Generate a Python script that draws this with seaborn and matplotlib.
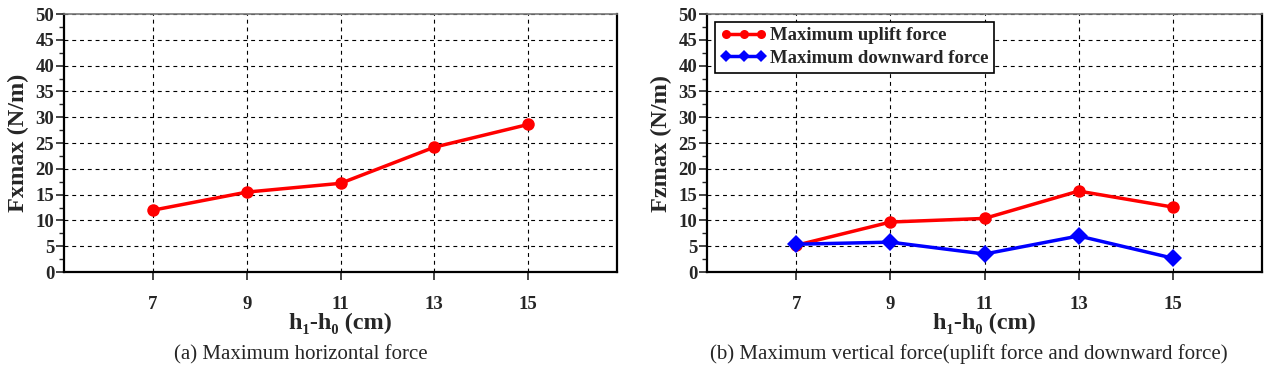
import numpy as np
import pandas as pd
import matplotlib
matplotlib.use("Agg")
import matplotlib.pyplot as plt
import seaborn as sns
from matplotlib.ticker import MultipleLocator

# Data
h_diff = [7, 9, 11, 13, 15]
fx_max = [12.0, 15.5, 17.2, 24.2, 28.6]
fz_uplift = [5.2, 9.7, 10.4, 15.7, 12.6]
fz_downward = [5.4, 5.8, 3.5, 7.0, 2.7]

sns.set_style("ticks")
plt.rcParams["font.family"] = ["Liberation Serif", "DejaVu Serif"]

fig = plt.figure(figsize=(12.66, 3.8), dpi=100)
ax1 = fig.add_axes([0.0506, 0.284, 0.4368, 0.679])
ax2 = fig.add_axes([0.5585, 0.284, 0.4384, 0.679])

df1 = pd.DataFrame({"h": h_diff, "F": fx_max})
sns.lineplot(data=df1, x="h", y="F", ax=ax1, color="#ff0000", linewidth=2.5,
             marker="o", markersize=9, markeredgewidth=0)

df2 = pd.DataFrame({
    "h": h_diff * 2,
    "F": fz_uplift + fz_downward,
    "kind": ["Maximum uplift force"] * 5 + ["Maximum downward force"] * 5,
})
sns.lineplot(data=df2, x="h", y="F", hue="kind", style="kind", ax=ax2,
             palette=["#ff0000", "#0000ff"], markers=["o", "D"], dashes=False,
             linewidth=2.5, markersize=9, markeredgewidth=0)

for ax, ylab in [(ax1, "Fxmax (N/m)"), (ax2, "Fzmax (N/m)")]:
    ax.set_xlim(5.1, 16.9)
    ax.set_ylim(0, 50)
    ax.set_xticks(h_diff)
    ax.yaxis.set_major_locator(MultipleLocator(5))
    ax.yaxis.set_minor_locator(MultipleLocator(2.5))
    ax.grid(True, which="major", color="black", linestyle=(0, (3.5, 3.5)), linewidth=0.8)
    ax.tick_params(axis="both", which="major", direction="out", length=6, width=1.2,
                   labelsize=13.5)
    ax.tick_params(axis="x", which="major", pad=11)
    ax.tick_params(axis="y", which="major", pad=1)
    ax.tick_params(axis="y", which="minor", direction="out", length=3.5, width=1)
    for lbl in ax.get_xticklabels() + ax.get_yticklabels():
        lbl.set_fontweight("bold")
    for sp in ax.spines.values():
        sp.set_visible(True)
        sp.set_linewidth(1.6)
        sp.set_color("black")
    ax.spines["top"].set_color("#777777")
    ax.spines["top"].set_linewidth(1.2)
    ax.set_xlabel("h\u2081-h\u2080 (cm)", fontsize=17.5, fontweight="bold", labelpad=0)
    ax.set_ylabel(ylab, fontsize=17.5, fontweight="bold", labelpad=5)

leg = ax2.legend(loc="upper left", frameon=True, fancybox=False, numpoints=3,
                 edgecolor="black", framealpha=1, handlelength=2.5, handletextpad=0.15,
                 borderpad=0.3, labelspacing=0.3, borderaxespad=0.4,
                 prop={"weight": "bold", "size": 13.5, "family": "Liberation Serif"})
leg.get_frame().set_linewidth(1.2)
for h in leg.legend_handles:
    h.set_markersize(6.5)

fig.text(0.238, 0.055, "(a) Maximum horizontal force", ha="center", fontsize=15)
fig.text(0.765, 0.055, "(b) Maximum vertical force(uplift force and downward force)",
         ha="center", fontsize=15)

fig.savefig("out.png", dpi=100)
plt.close()
